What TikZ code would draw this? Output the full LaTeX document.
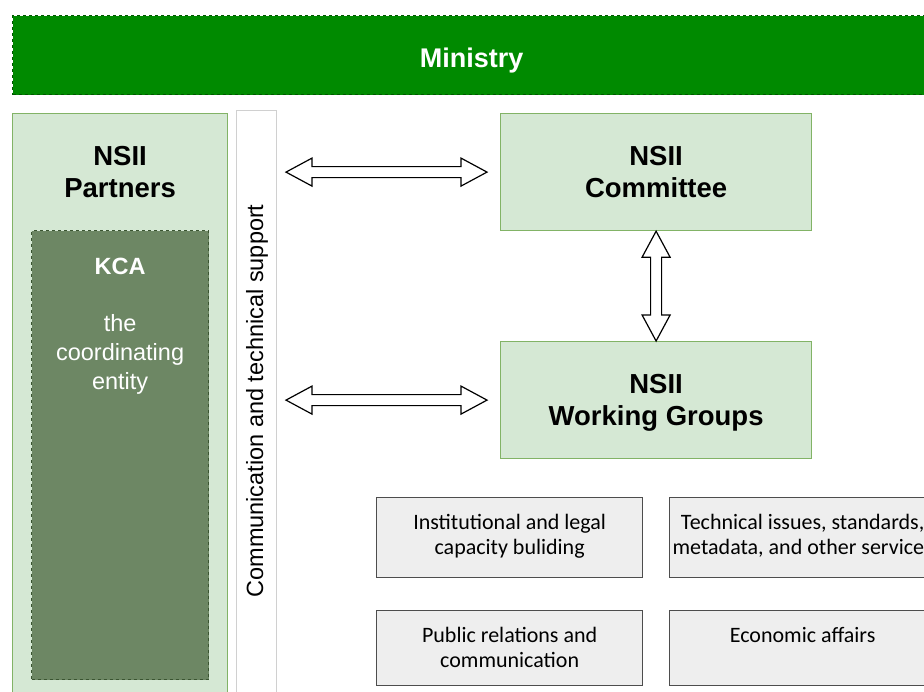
\documentclass[tikz,border=0pt]{standalone}
\usepackage{fontspec}
\setmainfont{Liberation Sans}
\newfontfamily\calibri{Carlito}
\usetikzlibrary{calc,
                positioning}
\definecolor{ministryfill}{HTML}{008A00}
\definecolor{ministryline}{HTML}{005700}
\definecolor{nsiifill}{HTML}{D5E8D4}
\definecolor{nsiiline}{HTML}{82B366}
\definecolor{kcafill}{HTML}{6D8764}
\definecolor{kcaline}{HTML}{3A5431}
\definecolor{stripline}{HTML}{D0D0D0}
\definecolor{wgfill}{HTML}{EEEEEE}
\definecolor{wgline}{HTML}{4D4D4D}
\tikzset{
    base/.style={draw, rectangle, anchor=north west, inner sep=0pt},
    nsii/.style={base, fill=nsiifill, draw=nsiiline, line width=1.2pt},
    title/.style={font=\fontsize{27.5}{32}\selectfont\bfseries, align=center,
                  inner sep=0pt, text depth=0pt},
    kcatxt/.style={text=white, font=\fontsize{23.5}{29}\selectfont, align=center, inner sep=0pt},
    wgbox/.style={base, fill=wgfill, draw=wgline, line width=1.3pt,
                  minimum width=266pt},
    wgtxt/.style={font=\calibri\fontsize{22}{25}\selectfont, align=center, inner sep=0pt},
    % hollow double-headed arrow, drawn as one outline
    flexarrow/.style={draw=black, fill=white, line width=1.2pt,
        to path={let \p1=(\tikztostart), \p2=(\tikztotarget),
                     \n1={atan2(\y2-\y1,\x2-\x1)} in
            (\p1) -- ($(\p1)+(\n1:26pt)+({\n1+90}:14pt)$)
                  -- ($(\p1)+(\n1:26pt)+({\n1+90}:5.5pt)$)
                  -- ($(\p2)+({\n1+180}:26pt)+({\n1+90}:5.5pt)$)
                  -- ($(\p2)+({\n1+180}:26pt)+({\n1+90}:14pt)$)
                  -- (\p2)
                  -- ($(\p2)+({\n1+180}:26pt)+({\n1-90}:14pt)$)
                  -- ($(\p2)+({\n1+180}:26pt)+({\n1-90}:5.5pt)$)
                  -- ($(\p1)+(\n1:26pt)+({\n1-90}:5.5pt)$)
                  -- ($(\p1)+(\n1:26pt)+({\n1-90}:14pt)$) -- cycle}},
}

\begin{document}
\begin{tikzpicture}[x=1pt, y=-1pt]
    \useasboundingbox (0,0) rectangle (924,691);
    \clip (0,0) rectangle (924,691);

    % top bar
    \node[base, fill=ministryfill, draw=ministryline, dashed, line width=1.3pt,
          minimum width=918pt, minimum height=79pt, text=white,
          text height=24pt, text depth=0pt,
          font=\fontsize{27}{32}\selectfont\bfseries] (ministry) at (12,15) {Ministry};

    % partners column
    \node[nsii, minimum width=215pt, minimum height=600pt] (partners) at (12,113) {};
    \node[title, below=33pt of partners.north] (ptitle) {NSII\\Partners};
    \node[base, fill=kcafill, draw=kcaline, dashed, line width=1.2pt,
          minimum width=177pt, minimum height=449pt] (kca) at (31,230) {};
    \node[kcatxt, font=\fontsize{23.5}{29}\selectfont\bfseries, below=28pt of kca.north] (kcatitle) {KCA};
    \node[kcatxt, below=39pt of kcatitle] (kcadesc) {the\\coordinating\\entity};

    % support strip
    \node[base, fill=white, draw=stripline, line width=1pt,
          minimum width=40pt, minimum height=600pt] (strip) at (236,110) {};
    \node[rotate=90, inner sep=0pt, font=\fontsize{23.5}{29}\selectfont] (striptxt) at (257,401)
        {Communication and technical support};

    % committee and working groups
    \node[nsii, minimum width=311pt, minimum height=117pt, title] (cmt) at (500,113) {NSII\\Committee};
    \node[nsii, minimum width=311pt, minimum height=117pt, title] (wg) at (500,341) {NSII\\Working Groups};

    \coordinate (cmt-l) at ($(strip.east |- cmt.west)+(9,0)$);
    \coordinate (cmt-r) at ($(cmt.west)+(-13,0)$);
    \coordinate (wg-l) at ($(strip.east |- wg.west)+(9,0)$);
    \coordinate (wg-r) at ($(wg.west)+(-13,0)$);
    \draw[flexarrow] (cmt-l) to (cmt-r);
    \draw[flexarrow] (wg-l) to (wg-r);
    \draw[flexarrow] (cmt.south) to (wg.north);

    % working group topics
    \node[wgbox, minimum height=80pt] (g1) at (376,497) {};
    \node[wgbox, minimum height=80pt] (g2) at (669,497) {};
    \node[wgbox, minimum height=75pt] (g3) at (376,610) {};
    \node[wgbox, minimum height=75pt] (g4) at (669,610) {};
    \node[wgtxt, below=17pt of g1.north] (g1txt) {Institutional and legal\\capacity buliding};
    \node[wgtxt, below=17pt of g2.north] (g2txt) {Technical issues, standards,\\metadata, and other services};
    \node[wgtxt, below=17pt of g3.north] (g3txt) {Public relations and\\communication};
    \node[wgtxt, below=17pt of g4.north] (g4txt) {Economic affairs};
\end{tikzpicture}
\end{document}
